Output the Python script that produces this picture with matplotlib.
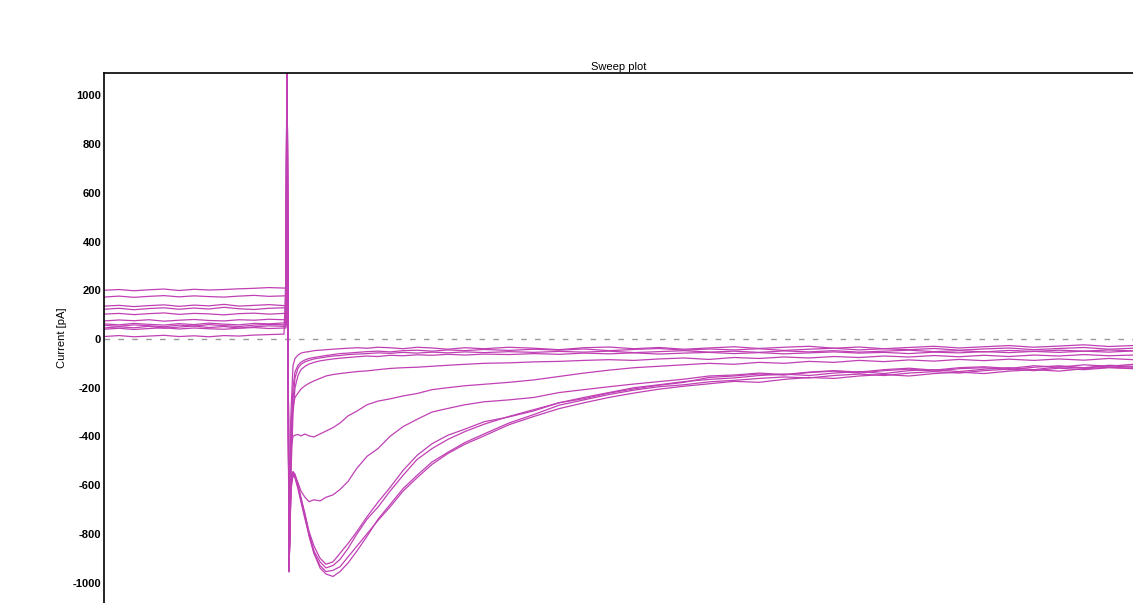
import numpy as np
from matplotlib import pyplot as plt

plt.rcParams['font.family'] = ['Liberation Sans', 'DejaVu Sans']
plt.rcParams['axes.unicode_minus'] = False

# sample times (ms) for all sweeps, the step is at t = 183
t_pre = [0, 15, 30, 45, 60, 75, 90, 105, 120, 135, 150, 165, 180, 182]
t_post = [183, 185, 187, 189, 191, 194, 197, 201, 205, 210, 216, 222, 229, 236,
          244, 253, 263, 274, 286, 299, 313, 328, 344, 361,
          380, 405, 430, 455, 480, 505, 530, 555, 580, 605, 630, 655, 680, 705,
          730, 755, 780, 805, 830, 855, 880, 905, 930, 955, 980, 1005, 1029]

# holding current before the step (pA)
pre_a = [10, 14, 9, 12, 15, 10, 13, 9, 14, 12, 16, 18, 20, 272]
pre_b1 = [45, 50, 46, 52, 44, 49, 53, 47, 51, 45, 50, 54, 52, 52]
pre_b2 = [56, 52, 58, 54, 50, 57, 53, 59, 55, 51, 57, 60, 58, 58]
pre_b3 = [62, 58, 64, 60, 57, 63, 59, 65, 61, 58, 64, 62, 66, 66]
pre_c = [74, 78, 75, 79, 73, 77, 80, 76, 74, 79, 77, 81, 79, 79]
pre_d = [102, 105, 100, 104, 107, 101, 105, 103, 99, 104, 106, 102, 105, 105]
pre_e = [122, 126, 120, 125, 128, 122, 127, 123, 130, 124, 121, 126, 128, 128]
pre_f1 = [135, 138, 133, 137, 140, 134, 139, 136, 142, 135, 138, 141, 137, 137]
pre_f2 = [172, 176, 171, 175, 178, 173, 177, 174, 172, 176, 179, 175, 177, 177]
pre_f3 = [200, 203, 198, 202, 205, 199, 204, 201, 203, 206, 208, 211, 209, 209]
pre_f4 = [40, 44, 39, 43, 46, 41, 45, 42, 40, 44, 47, 43, 45, 45]

# currents after the step (pA)
post_a = [1300, -950,
          -300, -110, -80, -66, -58, -54, -52, -48, -46, -44, -42, -40, -38, -36,
          -38, -34, -36, -40, -34, -37, -42, -36,
          -40, -34, -38, -44, -36, -33, -40, -35, -42, -37, -32, -39, -34, -30,
          -38, -33, -40, -35, -30, -37, -32, -27, -34, -29, -24, -31, -27]
post_b1 = [1300, -948,
           -400, -200, -135, -108, -95, -86, -80, -76, -72, -68, -64, -60, -58, -55,
           -52, -50, -53, -48, -46, -50, -45, -48,
           -43, -47, -42, -46, -41, -48, -43, -39, -46, -41, -45, -40, -47, -42,
           -38, -45, -40, -44, -39, -46, -41, -37, -44, -39, -35, -42, -38]
post_b2 = [975, -945,
           -480, -250, -160, -120, -104, -94, -88, -82, -78, -74, -70, -68, -64, -62,
           -60, -57, -59, -55, -58, -54, -57, -53,
           -56, -52, -55, -51, -54, -50, -56, -52, -48, -54, -50, -55, -49, -53,
           -48, -54, -50, -46, -52, -48, -53, -47, -51, -46, -50, -45, -49]
post_b3 = [1300, -952,
           -550, -310, -200, -150, -126, -112, -103, -96, -90, -86, -82, -79, -76, -73,
           -70, -72, -67, -69, -65, -67, -63, -66,
           -62, -64, -60, -63, -58, -61, -57, -62, -58, -55, -60, -56, -61, -57,
           -53, -58, -55, -60, -54, -57, -52, -56, -51, -55, -50, -54, -49]
post_c = [880, -950,
          -330, -280, -240, -222, -205, -192, -182, -172, -162, -152, -146, -142, -138, -134,
          -131, -126, -121, -118, -116, -112, -108, -104,
          -100, -98, -94, -92, -88, -85, -88, -82, -78, -84, -76, -80, -74, -78,
          -72, -76, -70, -74, -68, -73, -67, -72, -66, -70, -64, -69, -66]
post_d = [1300, -955,
          -450, -400, -395, -392, -398, -390, -398, -402, -390, -378, -364, -345, -316, -296,
          -270, -255, -246, -234, -224, -208, -200, -192,
          -186, -178, -168, -154, -140, -128, -118, -112, -106, -100, -104, -96, -100, -92,
          -96, -88, -93, -86, -91, -84, -89, -83, -88, -82, -87, -80, -85]
post_e = [1300, -957,
          -560, -545, -560, -590, -625, -650, -668, -660, -665, -650, -640, -618, -585, -530,
          -482, -450, -400, -360, -330, -300, -285, -270,
          -258, -250, -240, -220, -208, -196, -185, -175, -165, -152, -148, -140, -146, -136,
          -130, -136, -126, -120, -128, -118, -114, -121, -110, -116, -106, -112, -104]
post_f1 = [1300, -950,
           -600, -550, -565, -610, -660, -720, -790, -850, -900, -925, -915, -880, -840, -790,
           -730, -670, -610, -540, -478, -430, -395, -370,
           -340, -320, -295, -262, -245, -222, -205, -190, -178, -158, -152, -144, -148, -138,
           -132, -140, -130, -124, -132, -122, -118, -126, -116, -110, -118, -108, -112]
post_f2 = [1300, -953,
           -620, -560, -570, -615, -670, -740, -800, -870, -915, -940, -930, -905, -860, -800,
           -740, -690, -625, -560, -495, -450, -412, -380,
           -350, -318, -290, -262, -240, -220, -200, -188, -175, -166, -160, -150, -144, -150,
           -140, -134, -142, -130, -126, -134, -124, -118, -126, -114, -120, -110, -116]
post_f3 = [1300, -948,
           -580, -545, -555, -600, -650, -720, -800, -880, -940, -965, -975, -955, -920, -870,
           -810, -740, -680, -615, -560, -505, -465, -425,
           -390, -345, -310, -272, -250, -228, -210, -196, -188, -176, -170, -162, -156, -160,
           -150, -144, -150, -140, -134, -140, -130, -124, -130, -120, -126, -118, -122]
post_f4 = [1300, -951,
           -600, -555, -565, -605, -660, -730, -810, -880, -930, -955, -950, -935, -895, -850,
           -800, -745, -690, -625, -570, -515, -470, -432,
           -398, -352, -318, -286, -262, -240, -222, -206, -194, -184, -174, -178, -166, -158,
           -162, -152, -146, -152, -142, -136, -142, -132, -126, -132, -122, -116, -120]

sweeps = [(pre_a, post_a), (pre_b1, post_b1), (pre_b2, post_b2), (pre_b3, post_b3),
          (pre_c, post_c), (pre_d, post_d), (pre_e, post_e), (pre_f1, post_f1),
          (pre_f2, post_f2), (pre_f3, post_f3), (pre_f4, post_f4)]

yticks = [-1000, -800, -600, -400, -200, 0, 200, 400, 600, 800, 1000]

fig = plt.figure(figsize=(11.33, 6.03), dpi=100)
ax = fig.add_axes([104 / 1133, 0.0, 1 - 104 / 1133, 1 - 73 / 603])

t = np.array(t_pre + t_post)
ax.axhline(0, color='#9a9a9a', lw=1.0, ls=(0, (4, 6)), zorder=1)
for pre, post in sweeps:
    ax.plot(t, np.array(pre + post), color='#c040b4', lw=0.9, zorder=2)

ax.set_xlim(0, 1029)
ax.set_ylim(-1084, 1092)
ax.set_yticks(yticks)
ax.set_xticks([])
ax.tick_params(axis='y', length=0, pad=2, labelsize=8, labelcolor='black')
for lab in ax.get_yticklabels():
    lab.set_fontweight('bold')
ax.spines['right'].set_visible(False)
ax.spines['bottom'].set_visible(False)
ax.spines['left'].set_linewidth(1.2)
ax.spines['top'].set_linewidth(1.2)
ax.set_ylabel('Current [pA]', fontsize=8, labelpad=4)
ax.set_title('Sweep plot', fontsize=8, pad=2)

fig.savefig('out.png', dpi=100)
